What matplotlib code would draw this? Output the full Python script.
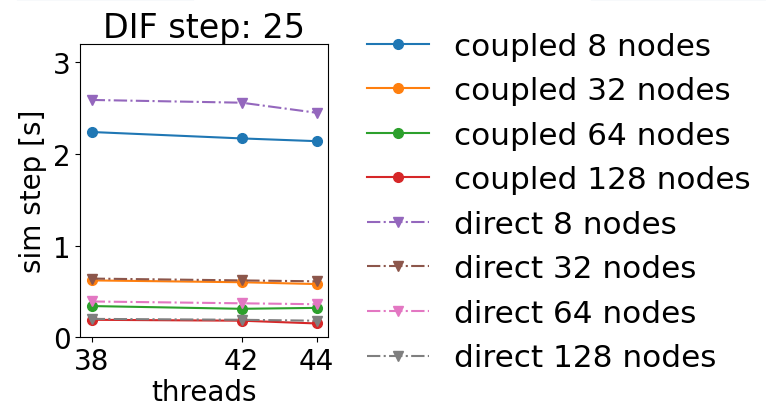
import matplotlib
matplotlib.use("Agg")
import matplotlib.pyplot as plt
from matplotlib.lines import Line2D

# --- data ---
threads = [38, 42, 44]
nodes = [8, 32, 64, 128]

coupled_8 = [2.24, 2.17, 2.14]
coupled_32 = [0.62, 0.60, 0.58]
coupled_64 = [0.34, 0.31, 0.32]
coupled_128 = [0.19, 0.18, 0.15]

direct_8 = [2.59, 2.56, 2.45]
direct_32 = [0.64, 0.62, 0.61]
direct_64 = [0.39, 0.37, 0.36]
direct_128 = [0.20, 0.19, 0.18]

coupled = [coupled_8, coupled_32, coupled_64, coupled_128]
direct = [direct_8, direct_32, direct_64, direct_128]

plt.rcParams['font.size'] = 20

fig = plt.figure(figsize=(7.66, 4.06), dpi=100)
ax = fig.add_axes([0.105, 0.167, 0.323, 0.722])

for i, (n, vals) in enumerate(zip(nodes, coupled)):
    ax.plot(threads, vals, marker='o', markersize=7, linestyle='-',
            color=f'C{i}', label=f'coupled {n} nodes')
for i, (n, vals) in enumerate(zip(nodes, direct)):
    ax.plot(threads, vals, marker='v', markersize=7, linestyle='-.',
            color=f'C{i + 4}', label=f'direct {n} nodes')

ax.set_title('DIF step: 25', pad=4)
ax.set_xlabel('threads', labelpad=2)
ax.set_ylabel('sim step [s]')
ax.set_xticks(threads)
ax.set_yticks([0, 1, 2, 3])
ax.set_ylim(0, 3.2)

handles, labels = ax.get_legend_handles_labels()
fig.legend(handles, labels, loc='center left', bbox_to_anchor=(0.442, 0.5),
           frameon=False, fontsize=22.4, labelspacing=0.5)

# thin cropped strips at the very top of the reference image
for x0, x1 in [(0.024, 0.252), (0.773, 1.0)]:
    fig.add_artist(Line2D([x0, x1], [0.999, 0.999], transform=fig.transFigure,
                          color='#4a7fb5', linewidth=1.5))

fig.savefig('out.png', dpi=100)
